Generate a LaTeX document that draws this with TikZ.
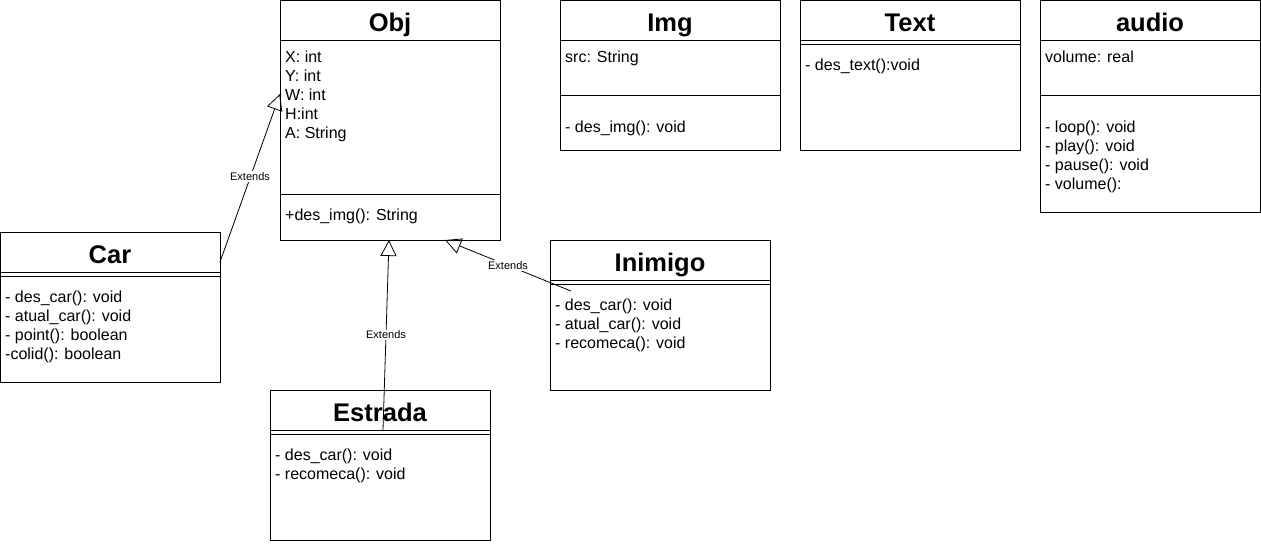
\documentclass[tikz,border=0pt]{standalone}
\usepackage{fontspec}
\setmainfont{Liberation Sans}
\usetikzlibrary{arrows.meta}
\usetikzlibrary{calc}

\begin{document}
\begin{tikzpicture}[x=1pt, y=-1pt]
    \tikzset{classbox/.style={draw, line width=1pt, inner sep=0pt, outer sep=0pt, anchor=north west, minimum width=220pt, minimum height=#1}}
    \tikzset{classname/.style={anchor=base, inner sep=0pt, font={\bfseries\fontsize{25.5}{30}\selectfont}}}
    % base of a member list is the baseline of its last line
    \tikzset{members/.style={anchor=base west, inner sep=0pt, align=left, font={\fontsize{16}{19.2}\selectfont}}}
    \tikzset{divider/.style={line width=1pt}}
    \tikzset{extends/.style={line width=0.8pt, -{Triangle[open, length=16pt, width=16pt]}}}
    \tikzset{extlabel/.style={fill=white, inner sep=1pt, font={\fontsize{11}{13}\selectfont}}}
    \useasboundingbox (0,0) rectangle (1261,544);

    % Obj
    \node[classbox=240pt] (obj) at (280,0) {};
    \node[classname] (obj name) at ($(obj.north)+(0,31.5)$) {Obj};
    \draw[divider] (280,40) -- (500,40);
    \draw[divider] (280,194) -- (500,194);
    \node[members] (obj attr) at (285,138.8) {X: int\\Y: int\\W: int\\H:int\\A: String};
    \node[members] (obj meth) at (285,220) {+des\_img(): String};

    % Img
    \node[classbox=150pt] (img) at (560,0) {};
    \node[classname] (img name) at ($(img.north)+(0,31.5)$) {Img};
    \draw[divider] (560,40) -- (780,40);
    \draw[divider] (560,95) -- (780,95);
    \node[members] (img attr) at (565,62) {src: String};
    \node[members] (img meth) at (565,132) {- des\_img(): void};

    % Text
    \node[classbox=150pt] (text) at (800,0) {};
    \node[classname] (text name) at ($(text.north)+(0,31.5)$) {Text};
    \draw[divider] (800,40) -- (1020,40);
    \draw[divider] (800,44) -- (1020,44);
    \node[members] (text meth) at (805,70) {- des\_text():void};

    % audio
    \node[classbox=212pt] (audio) at (1040,0) {};
    \node[classname] (audio name) at ($(audio.north)+(0,31.5)$) {audio};
    \draw[divider] (1040,40) -- (1260,40);
    \draw[divider] (1040,95) -- (1260,95);
    \node[members] (audio attr) at (1045,62) {volume: real};
    \node[members] (audio meth) at (1045,189.6) {- loop(): void\\- play(): void\\- pause(): void\\- volume():};

    % Car
    \node[classbox=150pt] (car) at (0,232) {};
    \node[classname] (car name) at ($(car.north)+(0,31.5)$) {Car};
    \draw[divider] (0,272) -- (220,272);
    \draw[divider] (0,276) -- (220,276);
    \node[members] (car meth) at (5,359.6) {- des\_car(): void\\- atual\_car(): void\\- point(): boolean\\-colid(): boolean};

    % Inimigo
    \node[classbox=150pt] (inimigo) at (550,240) {};
    \node[classname] (inimigo name) at ($(inimigo.north)+(0,31.5)$) {Inimigo};
    \draw[divider] (550,280) -- (770,280);
    \draw[divider] (550,284) -- (770,284);
    \node[members] (inimigo meth) at (555,348.4) {- des\_car(): void\\- atual\_car(): void\\- recomeca(): void};

    % Estrada
    \node[classbox=150pt] (estrada) at (270,390) {};
    \node[classname] (estrada name) at ($(estrada.north)+(0,31.5)$) {Estrada};
    \draw[divider] (270,430) -- (490,430);
    \draw[divider] (270,434) -- (490,434);
    \node[members] (estrada meth) at (275,479.2) {- des\_car(): void\\- recomeca(): void};

    % generalisations
    \draw[extends] ($(car.north east)+(0,30)$) -- ($(obj.north west)+(0,94)$) node[extlabel, midway, yshift=1.5pt] (car ext) {Extends};
    \draw[extends] ($(estrada.north west)+(113,40)$) -- ($(obj.south west)+(109,0)$) node[extlabel, midway] (estrada ext) {Extends};
    \draw[extends] ($(inimigo.north west)+(21,51)$) -- ($(obj.south west)+(165,0)$) node[extlabel, midway] (inimigo ext) {Extends};
\end{tikzpicture}
\end{document}
